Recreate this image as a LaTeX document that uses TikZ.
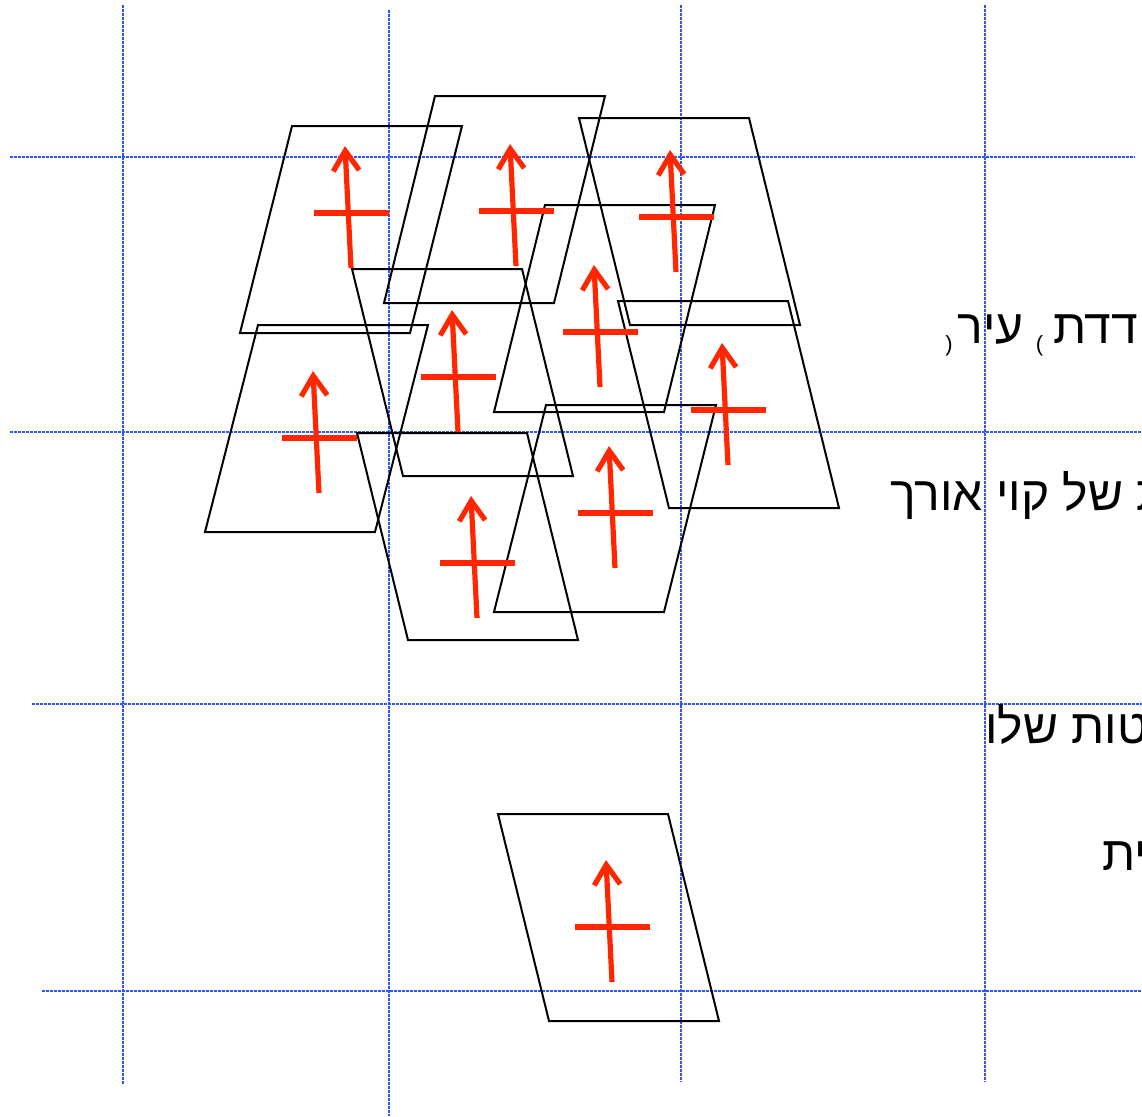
\documentclass[tikz,border=0pt]{standalone}
\usepackage{fontspec}
\usepackage{tikz}
\usetikzlibrary{arrows.meta}
\TeXXeTstate=1
\newfontfamily\hebfont[Script=Hebrew]{Liberation Sans}
\definecolor{gridblue}{RGB}{45,85,250}
\definecolor{arrred}{RGB}{255,38,0}
\tikzset{
  >={Straight Barb[length=10pt,width=13pt]},
  gridln/.style={draw=gridblue,line width=0.6pt,dash pattern=on 1.5pt off 0.5pt},
  frame/.style={draw=black,line width=1pt,line join=miter},
  arr/.style={->,draw=arrred,line width=2.6pt},
  bar/.style={draw=arrred,line width=2.6pt},
  heb/.style={anchor=base west,inner sep=0pt,font=\hebfont\fontsize{24}{28}\selectfont},
}
\newcommand{\parn}[1]{\raisebox{-4pt}{\fontsize{11}{11}\selectfont #1}}

\begin{document}
\begin{tikzpicture}[x=0.5pt,y=-0.5pt]
  \useasboundingbox (0,0) rectangle (1142,1116);
  \clip (0,0) rectangle (1142,1116);

  % ---------------- grid
  \draw[gridln] (123,5) -- (123,1085);
  \draw[gridln] (389,10) -- (389,1116);
  \draw[gridln] (681,5) -- (681,1082);
  \draw[gridln] (985,5) -- (985,1082);
  \draw[gridln] (10,157) -- (1135,157);
  \draw[gridln] (10,432) -- (1142,432);
  \draw[gridln] (32,704) -- (1142,704);
  \draw[gridln] (42,991) -- (1142,991);

  % ---------------- frames: top left corner, shift of the bottom edge
  \foreach \x/\y/\d in {292/126/-52, 435/96/-51, 579/118/51, 545/205/-51,
      352/269/51, 258/325/-53, 618/301/51, 357/433/51, 546/405/-52, 498/814/51}
    \draw[frame] (\x,\y) -- ++(170,0) -- ++(\d,207) -- ++(-170,0) -- cycle;

  % ---------------- north arrows: tip
  \foreach \x/\y in {345/146, 510/144, 670/150, 594/265, 452/310,
      313/371, 722/343, 471/496, 609/446, 606/860}{
    \draw[arr] (\x+6,\y+122) -- (\x,\y);
    \draw[bar] (\x-31,\y+67) -- (\x+44,\y+67);
  }

  % ---------------- text (cut at the right edge)
  \node[heb] (ln1) at (945,343) {\parn{(}\hspace{2.5pt}\beginR עיר\endR\hspace{6pt}\parn{)}\hspace{5pt}\beginR דדת\endR};
  \node[heb] (ln2) at (890,510) {\beginR ת של קוי אורך\endR};
  \node[heb] (ln3) at (985,743) {\beginR טות שלו\endR};
  \node[heb] (ln4) at (1102,870) {\beginR ית\endR};
\end{tikzpicture}
\end{document}
